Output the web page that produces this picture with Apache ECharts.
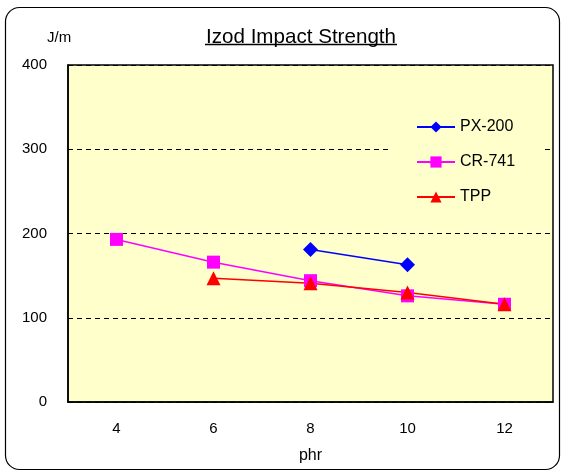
<!DOCTYPE html>
<html><head><meta charset="utf-8">
<script src="https://cdn.jsdelivr.net/npm/echarts@6/dist/echarts.min.js"></script>
<style>html,body{margin:0;padding:0;background:#fff}#c{width:565px;height:473px}</style>
</head><body><div id="c"></div>
<script>
var categories = ['4','6','8','10','12'];
var px200 = [null, null, 181, 163, null];
var cr741 = [193, 166, 144, 126, 116];
var tpp = [null, 147, 141, 130, 116];
var yTicks = [0, 100, 200, 300, 400];

var chart = echarts.init(document.getElementById('c'));
var FONT = 'Liberation Sans, Arial, sans-serif';
chart.setOption({
  animation: false,
  backgroundColor: '#ffffff',
  title: {
    text: 'Izod Impact Strength', left: 296, top: 22, textAlign: 'center',
    textStyle: {fontFamily: FONT, fontSize: 20.6, fontWeight: 'normal', color: '#000'}
  },
  graphic: [
    {type: 'rect', shape: {x: 5.5, y: 7.5, width: 554, height: 462, r: 14}, style: {fill: 'none', stroke: '#000', lineWidth: 1.2}, z: 100},
    {type: 'line', shape: {x1: 205, y1: 44.5, x2: 397, y2: 44.5}, style: {stroke: '#000', lineWidth: 1.5}},
    {type: 'text', left: 47, top: 30, style: {text: 'J/m', font: '15px ' + FONT, fill: '#000'}}
  ],
  legend: {
    orient: 'vertical', left: 389, top: 111, itemGap: 19, itemWidth: 38, itemHeight: 14,
    backgroundColor: '#ffffcc', padding: [8, 28, 8, 27],
    textStyle: {fontFamily: FONT, fontSize: 16, color: '#000'},
    data: ['PX-200', 'CR-741', 'TPP']
  },
  grid: {left: 68, right: 12, top: 65, bottom: 71, show: true, backgroundColor: '#ffffcc', borderColor: '#000', borderWidth: 1.5},
  xAxis: {
    type: 'category', data: categories, boundaryGap: true,
    name: 'phr', nameLocation: 'middle', nameGap: 46,
    nameTextStyle: {fontFamily: FONT, fontSize: 16, color: '#000'},
    axisLine: {lineStyle: {color: '#000', width: 1.5}},
    axisTick: {inside: true, length: 5, lineStyle: {color: '#000'}},
    axisLabel: {fontFamily: FONT, fontSize: 15, color: '#000', margin: 19},
    splitLine: {show: false}
  },
  yAxis: {
    type: 'value', min: yTicks[0], max: yTicks[yTicks.length - 1], interval: 100,
    axisLine: {show: true, lineStyle: {color: '#000', width: 1.5}},
    axisTick: {show: true, inside: true, length: 5, lineStyle: {color: '#000'}},
    axisLabel: {fontFamily: FONT, fontSize: 15, color: '#000', margin: 21},
    splitLine: {show: true, lineStyle: {color: '#000', type: [5, 4], width: 1}}
  },
  series: [
    {name: 'PX-200', type: 'line', data: px200, color: '#0000ff', symbol: 'diamond', symbolSize: 15,
      lineStyle: {width: 1.5}, itemStyle: {color: '#0000ff'}, connectNulls: false},
    {name: 'CR-741', type: 'line', data: cr741, color: '#ff00ff', symbol: 'rect', symbolSize: 13,
      lineStyle: {width: 1.5}, itemStyle: {color: '#ff00ff'}},
    {name: 'TPP', type: 'line', data: tpp, color: '#ff0000', symbol: 'triangle', symbolSize: 14,
      lineStyle: {width: 1.5}, itemStyle: {color: '#ff0000'}}
  ]
});
</script></body></html>
